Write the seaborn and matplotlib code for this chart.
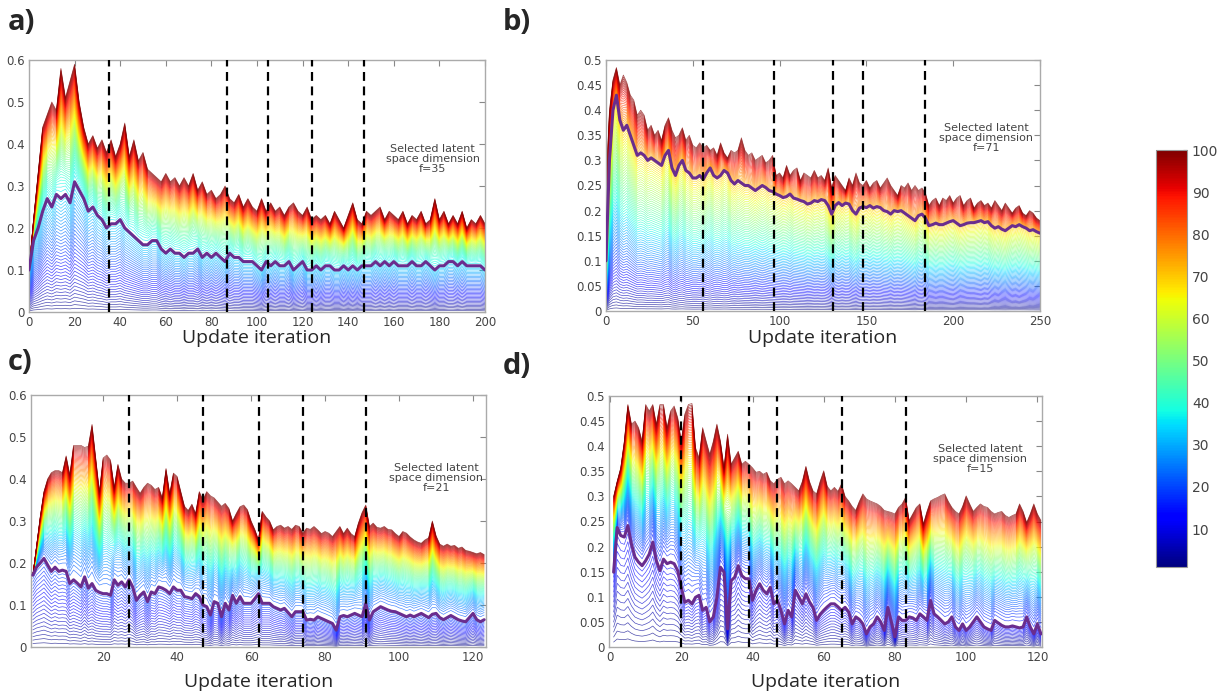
import numpy as np
import pandas as pd
import matplotlib
matplotlib.use("Agg")
import matplotlib.pyplot as plt
import seaborn as sns

# ---- data ----
# a) iterations 0..200 (every 2nd), selected dimension f=35
iters_a = list(range(0, 201, 2))
top_a = [0.10, 0.22, 0.33, 0.44, 0.47, 0.50, 0.48, 0.58, 0.51, 0.55,
         0.59, 0.50, 0.44, 0.40, 0.42, 0.39, 0.41, 0.38, 0.41, 0.37,
         0.40, 0.45, 0.37, 0.41, 0.36, 0.38, 0.34, 0.33, 0.32, 0.31,
         0.33, 0.31, 0.32, 0.30, 0.32, 0.30, 0.33, 0.29, 0.31, 0.28,
         0.29, 0.27, 0.28, 0.30, 0.27, 0.26, 0.28, 0.25, 0.27, 0.25,
         0.24, 0.27, 0.24, 0.26, 0.24, 0.25, 0.23, 0.25, 0.26, 0.24,
         0.23, 0.25, 0.22, 0.23, 0.22, 0.23, 0.21, 0.24, 0.22, 0.20,
         0.23, 0.26, 0.22, 0.21, 0.24, 0.23, 0.24, 0.25, 0.22, 0.24,
         0.23, 0.22, 0.24, 0.21, 0.23, 0.22, 0.24, 0.21, 0.22, 0.27,
         0.22, 0.24, 0.21, 0.23, 0.21, 0.24, 0.20, 0.22, 0.21, 0.23,
         0.21]
sel_a = [0.10, 0.17, 0.20, 0.24, 0.27, 0.25, 0.28, 0.27, 0.28, 0.26,
         0.31, 0.29, 0.27, 0.24, 0.25, 0.23, 0.22, 0.20, 0.21, 0.21,
         0.22, 0.20, 0.19, 0.18, 0.17, 0.16, 0.16, 0.17, 0.17, 0.15,
         0.14, 0.15, 0.14, 0.14, 0.13, 0.14, 0.14, 0.15, 0.13, 0.14,
         0.13, 0.14, 0.13, 0.12, 0.14, 0.13, 0.13, 0.12, 0.12, 0.12,
         0.11, 0.10, 0.12, 0.11, 0.12, 0.11, 0.11, 0.12, 0.10, 0.11,
         0.12, 0.10, 0.10, 0.11, 0.10, 0.11, 0.11, 0.10, 0.10, 0.11,
         0.10, 0.11, 0.10, 0.11, 0.11, 0.11, 0.12, 0.11, 0.12, 0.11,
         0.12, 0.11, 0.11, 0.11, 0.12, 0.11, 0.11, 0.12, 0.11, 0.10,
         0.11, 0.11, 0.12, 0.12, 0.11, 0.12, 0.11, 0.11, 0.11, 0.11,
         0.10]
vlines_a = [35, 87, 105, 124, 147]

# b) iterations 0..250 (every 2nd), f=71
iters_b = list(range(0, 251, 2))
top_b = [0.25, 0.40, 0.46, 0.485, 0.45, 0.47, 0.455, 0.43, 0.42, 0.39,
         0.40, 0.39, 0.36, 0.37, 0.35, 0.36, 0.34, 0.37, 0.385, 0.36,
         0.345, 0.35, 0.365, 0.34, 0.35, 0.33, 0.325, 0.335, 0.325, 0.33,
         0.32, 0.325, 0.31, 0.335, 0.315, 0.305, 0.32, 0.315, 0.32, 0.345,
         0.32, 0.31, 0.315, 0.30, 0.305, 0.31, 0.295, 0.30, 0.31, 0.27,
         0.275, 0.265, 0.29, 0.27, 0.28, 0.285, 0.26, 0.275, 0.27, 0.265,
         0.28, 0.265, 0.27, 0.26, 0.285, 0.245, 0.27, 0.26, 0.25, 0.24,
         0.265, 0.25, 0.275, 0.255, 0.25, 0.26, 0.245, 0.255, 0.26, 0.245,
         0.255, 0.265, 0.25, 0.24, 0.23, 0.25, 0.245, 0.255, 0.24, 0.25,
         0.24, 0.245, 0.235, 0.21, 0.22, 0.225, 0.21, 0.225, 0.22, 0.23,
         0.215, 0.225, 0.23, 0.21, 0.22, 0.225, 0.205, 0.215, 0.22, 0.21,
         0.215, 0.205, 0.22, 0.21, 0.20, 0.215, 0.205, 0.195, 0.205, 0.21,
         0.195, 0.19, 0.20, 0.195, 0.185, 0.18]
sel_b = [0.10, 0.30, 0.40, 0.43, 0.38, 0.36, 0.37, 0.35, 0.33, 0.31,
         0.315, 0.31, 0.30, 0.305, 0.30, 0.295, 0.29, 0.31, 0.32, 0.285,
         0.27, 0.29, 0.30, 0.28, 0.275, 0.265, 0.265, 0.27, 0.262, 0.275,
         0.285, 0.27, 0.265, 0.27, 0.28, 0.275, 0.26, 0.253, 0.26, 0.255,
         0.25, 0.25, 0.245, 0.24, 0.245, 0.25, 0.246, 0.24, 0.238, 0.233,
         0.23, 0.226, 0.228, 0.233, 0.225, 0.223, 0.22, 0.218, 0.213, 0.215,
         0.22, 0.218, 0.222, 0.22, 0.21, 0.193, 0.21, 0.216, 0.21, 0.215,
         0.213, 0.20, 0.193, 0.205, 0.208, 0.206, 0.21, 0.205, 0.208, 0.206,
         0.20, 0.198, 0.193, 0.20, 0.198, 0.20, 0.195, 0.19, 0.185, 0.18,
         0.19, 0.193, 0.185, 0.17, 0.172, 0.175, 0.172, 0.172, 0.175, 0.178,
         0.18, 0.175, 0.17, 0.172, 0.175, 0.176, 0.176, 0.178, 0.18, 0.176,
         0.178, 0.17, 0.165, 0.168, 0.163, 0.16, 0.165, 0.17, 0.168, 0.172,
         0.168, 0.165, 0.16, 0.162, 0.158, 0.155]
vlines_b = [56, 97, 131, 148, 184]

# c) iterations 1..123, f=21
iters_c = list(range(1, 124))
top_c = [0.17, 0.24, 0.31, 0.37, 0.40, 0.415, 0.42, 0.42, 0.415, 0.455,
         0.41, 0.48, 0.48, 0.48, 0.475, 0.478, 0.53, 0.45, 0.37, 0.45,
         0.457, 0.445, 0.38, 0.435, 0.40, 0.39, 0.39, 0.395, 0.38, 0.366,
         0.38, 0.39, 0.385, 0.375, 0.38, 0.355, 0.425, 0.365, 0.414, 0.406,
         0.37, 0.335, 0.325, 0.34, 0.318, 0.37, 0.35, 0.37, 0.36, 0.355,
         0.345, 0.335, 0.342, 0.33, 0.30, 0.318, 0.334, 0.338, 0.327, 0.30,
         0.28, 0.255, 0.323, 0.31, 0.30, 0.279, 0.287, 0.29, 0.283, 0.287,
         0.28, 0.29, 0.287, 0.271, 0.283, 0.28, 0.287, 0.279, 0.27, 0.275,
         0.271, 0.263, 0.275, 0.287, 0.27, 0.283, 0.27, 0.263, 0.295, 0.32,
         0.338, 0.287, 0.295, 0.285, 0.283, 0.287, 0.28, 0.279, 0.27, 0.263,
         0.275, 0.271, 0.262, 0.255, 0.25, 0.247, 0.255, 0.26, 0.30, 0.265,
         0.245, 0.24, 0.245, 0.24, 0.242, 0.235, 0.238, 0.23, 0.228, 0.225,
         0.222, 0.225, 0.22]
sel_c = [0.171, 0.19, 0.20, 0.211, 0.195, 0.18, 0.19, 0.18, 0.183, 0.18,
         0.151, 0.16, 0.152, 0.143, 0.167, 0.14, 0.151, 0.135, 0.13, 0.127,
         0.127, 0.123, 0.16, 0.147, 0.155, 0.143, 0.16, 0.143, 0.111, 0.123,
         0.131, 0.108, 0.131, 0.127, 0.143, 0.14, 0.135, 0.127, 0.143, 0.135,
         0.135, 0.12, 0.118, 0.115, 0.127, 0.12, 0.10, 0.096, 0.076, 0.108,
         0.104, 0.072, 0.104, 0.088, 0.123, 0.104, 0.12, 0.104, 0.104, 0.104,
         0.115, 0.127, 0.104, 0.104, 0.104, 0.096, 0.092, 0.088, 0.092, 0.082,
         0.072, 0.084, 0.084, 0.084, 0.064, 0.066, 0.064, 0.072, 0.068, 0.064,
         0.06, 0.056, 0.04, 0.072, 0.075, 0.072, 0.076, 0.08, 0.076, 0.072,
         0.104, 0.064, 0.084, 0.09, 0.096, 0.092, 0.088, 0.085, 0.084, 0.08,
         0.076, 0.072, 0.076, 0.072, 0.076, 0.08, 0.075, 0.07, 0.078, 0.08,
         0.07, 0.065, 0.07, 0.075, 0.07, 0.065, 0.062, 0.06, 0.07, 0.08,
         0.065, 0.06, 0.065]
vlines_c = [27, 47, 62, 74, 91]

# d) iterations 1..121, f=15
iters_d = list(range(1, 122))
top_d = [0.30, 0.33, 0.357, 0.41, 0.483, 0.444, 0.45, 0.437, 0.41, 0.483,
         0.47, 0.483, 0.444, 0.483, 0.483, 0.437, 0.47, 0.48, 0.457, 0.41,
         0.464, 0.483, 0.485, 0.397, 0.377, 0.437, 0.41, 0.384, 0.41, 0.444,
         0.41, 0.357, 0.424, 0.364, 0.377, 0.39, 0.364, 0.37, 0.364, 0.357,
         0.348, 0.35, 0.344, 0.348, 0.331, 0.325, 0.334, 0.338, 0.325, 0.331,
         0.325, 0.318, 0.311, 0.33, 0.36, 0.33, 0.311, 0.305, 0.33, 0.351,
         0.32, 0.311, 0.318, 0.31, 0.325, 0.30, 0.291, 0.28, 0.272, 0.29,
         0.305, 0.295, 0.291, 0.288, 0.285, 0.28, 0.272, 0.27, 0.268, 0.265,
         0.278, 0.285, 0.298, 0.252, 0.265, 0.278, 0.285, 0.245, 0.27, 0.291,
         0.295, 0.298, 0.302, 0.305, 0.29, 0.278, 0.27, 0.265, 0.28, 0.301,
         0.285, 0.27, 0.278, 0.285, 0.28, 0.278, 0.27, 0.265, 0.268, 0.27,
         0.262, 0.258, 0.262, 0.265, 0.285, 0.27, 0.248, 0.265, 0.285, 0.265,
         0.252]
sel_d = [0.149, 0.238, 0.222, 0.219, 0.242, 0.205, 0.179, 0.169, 0.162, 0.172,
         0.185, 0.209, 0.172, 0.152, 0.175, 0.166, 0.169, 0.166, 0.152, 0.119,
         0.089, 0.093, 0.086, 0.099, 0.103, 0.073, 0.079, 0.05, 0.06, 0.099,
         0.159, 0.149, 0.036, 0.132, 0.139, 0.162, 0.142, 0.136, 0.136, 0.093,
         0.113, 0.126, 0.113, 0.106, 0.119, 0.086, 0.093, 0.073, 0.046, 0.073,
         0.06, 0.113, 0.10, 0.086, 0.106, 0.09, 0.079, 0.053, 0.065, 0.073,
         0.08, 0.086, 0.086, 0.08, 0.073, 0.079, 0.07, 0.046, 0.06, 0.055,
         0.046, 0.026, 0.04, 0.046, 0.06, 0.05, 0.033, 0.079, 0.05, 0.02,
         0.06, 0.053, 0.053, 0.06, 0.058, 0.053, 0.066, 0.06, 0.053, 0.093,
         0.066, 0.06, 0.053, 0.046, 0.05, 0.06, 0.04, 0.033, 0.046, 0.033,
         0.04, 0.05, 0.06, 0.05, 0.04, 0.036, 0.033, 0.053, 0.048, 0.043,
         0.04, 0.04, 0.042, 0.04, 0.038, 0.04, 0.06, 0.04, 0.026, 0.046,
         0.026]
vlines_d = [20, 39, 47, 65, 83]

selected = [35, 71, 21, 15]
n_dims = 100
jet = matplotlib.colormaps["jet"]


def dim_frame(iters, top, sel, f, q):
    # spread the 100 latent dimensions between the selected curve and the top one
    top = np.asarray(top)
    sel = np.asarray(sel)
    parts = []
    for k in range(1, n_dims + 1):
        if k == f:
            continue
        if k < f:
            vals = sel * k / f
        else:
            vals = sel + ((k - f) / (n_dims - f)) ** q * (top - sel)
        parts.append(pd.DataFrame({"iteration": iters, "value": vals, "dim": k}))
    return pd.concat(parts, ignore_index=True)


sns.set_style("white")
plt.rcParams["font.family"] = ["DejaVu Sans"]

fig = plt.figure(figsize=(12.28, 6.96), dpi=100)
W, H = 1228, 696


def px_axes(l, t, r, b):
    return fig.add_axes([l / W, 1 - b / H, (r - l) / W, (b - t) / H])


panels = [
    dict(label="a)", box=(29, 60, 485, 312), it=iters_a, top=top_a, sel=sel_a, q=0.7,
         xlim=(0, 200), xt=range(0, 201, 20), ylim=(0, 0.6), yt=np.arange(0, 0.61, 0.1),
         vl=vlines_a, txt=(177, 0.365), lab=(8, 22)),
    dict(label="b)", box=(606, 60, 1040, 311), it=iters_b, top=top_b, sel=sel_b, q=1.0,
         xlim=(0, 250), xt=range(0, 251, 50), ylim=(0, 0.5), yt=np.arange(0, 0.51, 0.05),
         vl=vlines_b, txt=(219, 0.345), lab=(503, 22)),
    dict(label="c)", box=(31, 395, 486, 647), it=iters_c, top=top_c, sel=sel_c, q=0.6,
         xlim=(0.5, 123.5), xt=range(20, 121, 20), ylim=(0, 0.6), yt=np.arange(0, 0.61, 0.1),
         vl=vlines_c, txt=(110, 0.403), lab=(8, 363)),
    dict(label="d)", box=(609, 396, 1042, 647), it=iters_d, top=top_d, sel=sel_d, q=0.65,
         xlim=(-0.3, 121.3), xt=range(0, 121, 20), ylim=(0, 0.5), yt=np.arange(0, 0.51, 0.05),
         vl=vlines_d, txt=(104, 0.375), lab=(503, 366)),
]

fmt = matplotlib.ticker.FuncFormatter(lambda v, _: f"{v:g}")

for p, f in zip(panels, selected):
    ax = px_axes(*p["box"])
    df = dim_frame(p["it"], p["top"], p["sel"], f, p["q"])
    sns.lineplot(data=df, x="iteration", y="value", hue="dim", palette=jet,
                 hue_norm=(1, n_dims), estimator=None, legend=False, sort=False,
                 lw=0.5, alpha=0.7, ax=ax)
    sns.lineplot(x=p["it"], y=p["sel"], color="#6a2d8e", lw=2.2, estimator=None,
                 sort=False, ax=ax, zorder=5)
    for v in p["vl"]:
        ax.axvline(v, color="black", lw=1.6, dashes=(4, 2.5), zorder=6)
    ax.set_xlim(*p["xlim"])
    ax.set_ylim(*p["ylim"])
    ax.set_xticks(list(p["xt"]))
    ax.set_yticks(p["yt"])
    ax.yaxis.set_major_formatter(fmt)
    ax.set_xlabel("")
    ax.set_ylabel("")
    ax.tick_params(direction="in", top=True, right=True, length=4, width=0.8,
                   color="#888888", labelsize=8.5, labelcolor="#444444", pad=3)
    for s in ax.spines.values():
        s.set_color("#aaaaaa")
        s.set_linewidth(1.0)
    ax.text(p["txt"][0], p["txt"][1], f"Selected latent\nspace dimension\nf={f}",
            ha="center", va="center", fontsize=8, color="#444444", linespacing=1.0,
            zorder=7)
    l, t, r, b = p["box"]
    fig.text(p["lab"][0] / W, 1 - p["lab"][1] / H, p["label"], fontsize=21,
             fontweight="bold", va="center", ha="left", family=["Open Sans", "DejaVu Sans"])
    ylab = 338 if t < 300 else 682
    fig.text((l + r) / 2 / W, 1 - ylab / H, "Update iteration", fontsize=14,
             ha="center", va="center", family=["Open Sans", "DejaVu Sans"])

# colorbar for the latent space dimension
cax = px_axes(1156, 150, 1187, 567)
sm = plt.cm.ScalarMappable(cmap=jet, norm=plt.Normalize(1, n_dims))
cb = fig.colorbar(sm, cax=cax, ticks=list(range(10, 101, 10)))
cb.outline.set_edgecolor("#999999")
cb.ax.tick_params(direction="in", length=3, color="#555555", labelsize=10,
                  labelcolor="#444444")

fig.savefig("out.png", dpi=100)
